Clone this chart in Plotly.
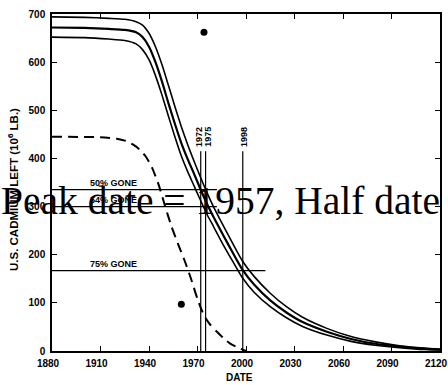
import plotly.graph_objects as go

# Remaining U.S. cadmium (10^6 lb) -- central estimate with upper/lower bounds
years = [1880, 1900, 1915, 1925, 1932, 1936, 1940, 1944, 1948, 1952, 1956, 1960,
         1964, 1968, 1972, 1976, 1980, 1986, 1992, 1998, 2005, 2015, 2025, 2035,
         2050, 2065, 2080, 2095, 2110, 2120]
center = [672, 671, 669, 667, 662, 652, 632, 600, 560, 515, 472, 432,
          398, 367, 335, 305, 278, 240, 203, 168, 138, 105, 80, 60,
          40, 25, 15, 9, 5, 3]
upper = [694, 693, 691, 689, 684, 677, 660, 632, 595, 552, 508, 466,
         428, 393, 360, 328, 299, 260, 222, 186, 155, 120, 92, 70,
         47, 30, 19, 11, 6, 4]
lower = [652, 651, 648, 645, 638, 626, 605, 572, 532, 488, 445, 405,
         372, 342, 312, 283, 258, 220, 185, 151, 122, 92, 69, 51,
         33, 20, 12, 7, 3, 2]

# Dashed curve
dash_years = [1880, 1910, 1920, 1926, 1930, 1934, 1938, 1942, 1946, 1950, 1954,
              1958, 1962, 1966, 1970, 1974, 1978, 1982, 1986, 1990, 1995, 2000]
dash_vals = [445, 444, 441, 436, 429, 419, 404, 380, 345, 300, 258,
             222, 188, 150, 108, 74, 54, 40, 27, 16, 7, 0]

# Single observations
dot_years = [1974, 1960]
dot_vals = [662, 97]

# "gone" reference levels
gone_levels = [335, 300, 167]
gone_start = [1880, 1880, 1880]
gone_end = [1982, 1982, 2012]
gone_labels = ["50% GONE", "54% GONE", "75% GONE"]
gone_label_year = 1918

# Marked dates
mark_years = [1972, 1975, 1998]
mark_top = 415
mark_labels = ["1972", "1975", "1998"]
mark_label_nudge = [-2, 3, 1]

x_ticks = list(range(1880, 2121, 30))
y_ticks = list(range(0, 701, 100))

title_text = "Peak date = 1957, Half date"

# plot-area geometry (pixels)
L, R, T, B = 52, 8, 14, 34
W, H = 448, 385
pw, ph = W - L - R, H - T - B

fig = go.Figure()

for series, w in [(upper, 1.6), (center, 2.2), (lower, 1.6)]:
    fig.add_trace(go.Scatter(x=years, y=series, mode="lines",
                             line=dict(color="black", width=w, shape="spline", smoothing=0.6),
                             hoverinfo="skip", showlegend=False))

fig.add_trace(go.Scatter(x=dash_years, y=dash_vals, mode="lines",
                         line=dict(color="black", width=2, dash="10px,6px",
                                   shape="spline", smoothing=0.6),
                         hoverinfo="skip", showlegend=False))

for lvl, x0, x1 in zip(gone_levels, gone_start, gone_end):
    fig.add_trace(go.Scatter(x=[x0, x1], y=[lvl, lvl], mode="lines",
                             line=dict(color="black", width=1.2),
                             hoverinfo="skip", showlegend=False))

for yr in mark_years:
    fig.add_trace(go.Scatter(x=[yr, yr], y=[0, mark_top], mode="lines",
                             line=dict(color="black", width=1.2),
                             hoverinfo="skip", showlegend=False))

fig.add_trace(go.Scatter(x=dot_years, y=dot_vals, mode="markers",
                         marker=dict(color="black", size=7),
                         hoverinfo="skip", showlegend=False))

label_font = dict(family="Liberation Sans", size=9, color="black", weight="bold")

for lvl, lab in zip(gone_levels, gone_labels):
    fig.add_annotation(x=gone_label_year, y=lvl, text=lab, showarrow=False,
                       xanchor="center", yanchor="bottom",
                       font=label_font)

for yr, lab, dx in zip(mark_years, mark_labels, mark_label_nudge):
    fig.add_annotation(x=yr, y=mark_top, text=lab, showarrow=False,
                       textangle=-90, xanchor="center", yanchor="bottom",
                       xshift=dx, yshift=2, font=label_font)

# Axis titles
title_font = dict(family="Liberation Sans", size=11.5, color="black", weight="bold")
fig.add_annotation(xref="paper", yref="paper", x=(13 - L) / pw, y=(H - B - 190) / ph,
                   text="U.S. CADMIUM LEFT (10<sup>6</sup> LB.)", textangle=-90,
                   showarrow=False, xanchor="center", yanchor="middle",
                   font=title_font)
fig.add_annotation(xref="paper", yref="paper", x=(239 - L) / pw, y=-(377 - (H - B)) / ph,
                   text="DATE", showarrow=False, xanchor="center", yanchor="middle",
                   font=dict(family="Liberation Sans", size=10, color="black", weight="bold"))

# Overlaid caption
fig.add_annotation(xref="paper", yref="y", x=(-1 - L) / pw, y=311,
                   text=title_text, showarrow=False, xanchor="left", yanchor="middle",
                   font=dict(family="Liberation Serif", size=39.5, color="black"))

tick_font = dict(family="Liberation Sans", size=10, color="black", weight="bold")

fig.update_xaxes(range=[1880, 2120], tickvals=x_ticks, ticks="inside", ticklen=5,
                 tickwidth=1.2, tickcolor="black", mirror="ticks", showline=True,
                 linecolor="black", linewidth=1.5, showgrid=False, zeroline=False,
                 tickfont=tick_font, ticklabelstandoff=2, ticklabelshift=-4,
                 ticklabeloverflow="allow", automargin=False)
fig.update_yaxes(range=[0, 700], tickvals=y_ticks, ticks="inside", ticklen=5,
                 tickwidth=1.2, tickcolor="black", mirror="ticks", showline=True,
                 linecolor="black", linewidth=1.5, showgrid=False, zeroline=False,
                 tickfont=tick_font, ticklabelstandoff=3, automargin=False)

fig.update_layout(width=W, height=H, margin=dict(l=L, r=R, t=T, b=B),
                  paper_bgcolor="white", plot_bgcolor="white", showlegend=False)

fig.write_html("out.html")
